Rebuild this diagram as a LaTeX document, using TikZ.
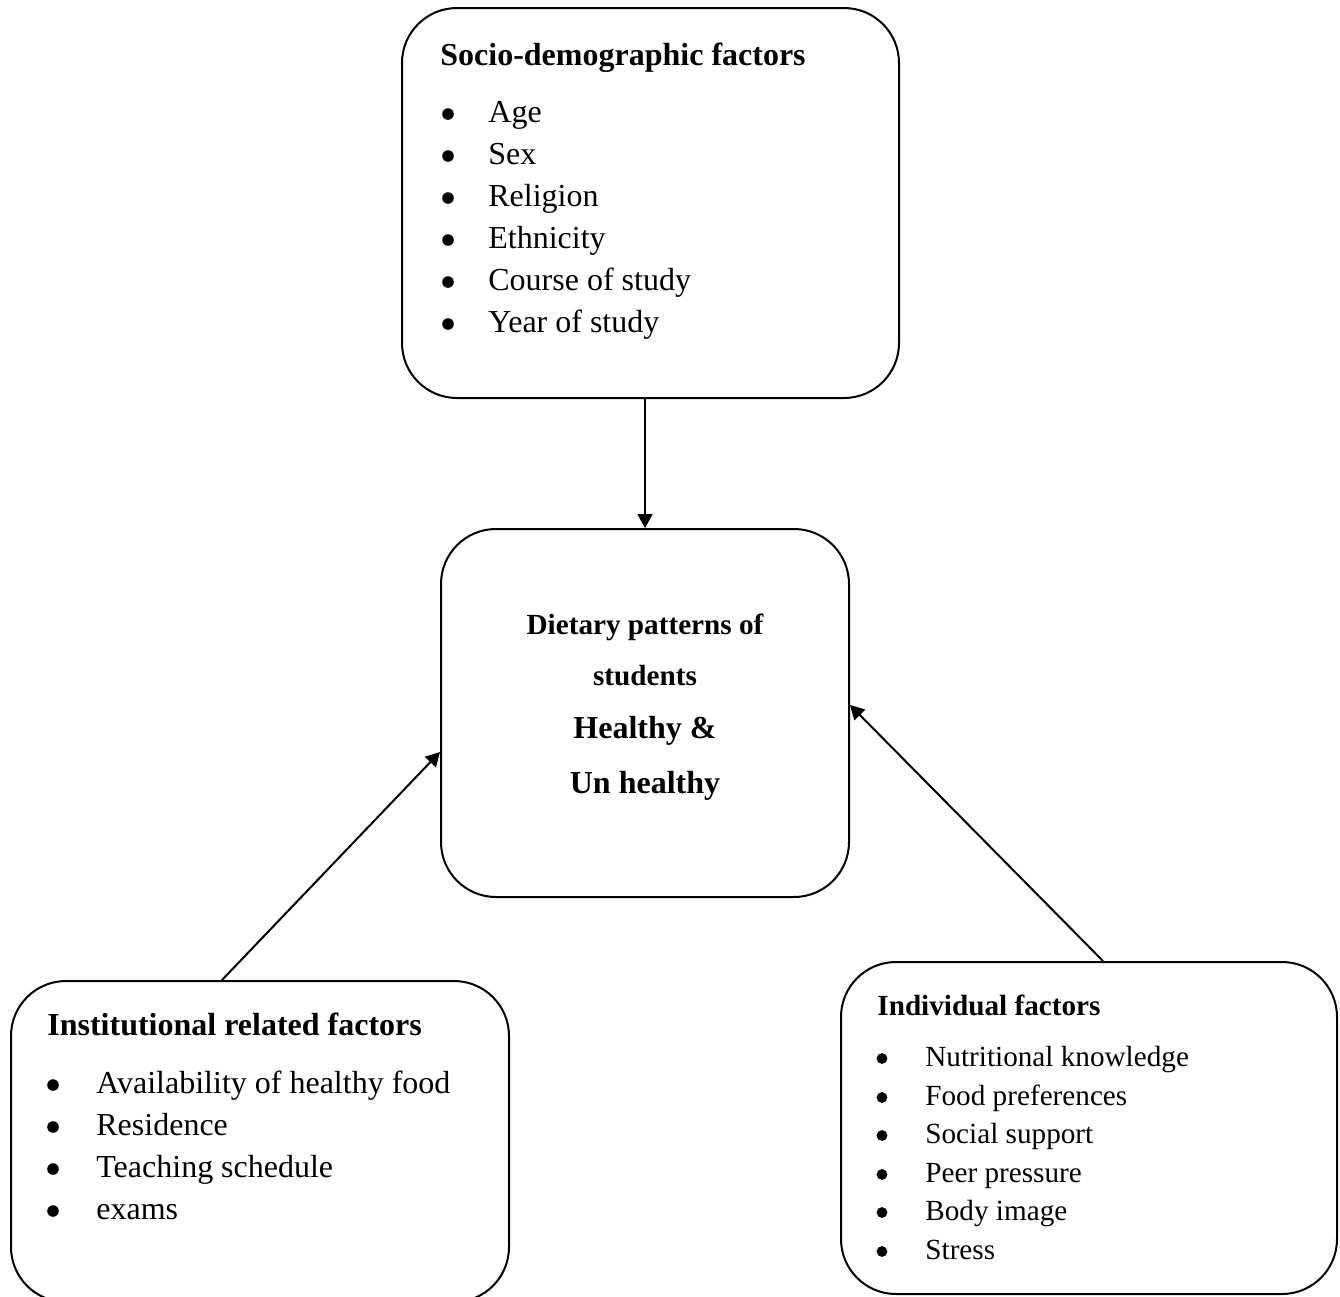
\documentclass[tikz,border=0pt]{standalone}
\usepackage{fontspec}
\setmainfont{Liberation Serif}
\usetikzlibrary{arrows.meta}
\tikzset{
  box/.style={draw, line width=1pt, rounded corners=27.5pt, inner sep=0pt, fill=none},
  arr/.style={line width=1pt, -{Triangle[length=7pt,width=7.5pt]}},
  big/.style={font=\fontsize{16}{19}\selectfont, inner sep=0pt, anchor=base west},
  bigb/.style={font=\fontsize{16}{19}\selectfont\bfseries, inner sep=0pt, anchor=base west},
  sml/.style={font=\fontsize{14.6}{17}\selectfont, inner sep=0pt, anchor=base west},
  smlb/.style={font=\fontsize{14.6}{17}\selectfont\bfseries, inner sep=0pt, anchor=base west},
  dotbig/.style={circle, fill=black, inner sep=0pt, minimum size=5.8pt},
  dotsml/.style={circle, fill=black, inner sep=0pt, minimum size=5.4pt},
  ctrb/.style={font=\fontsize{14.6}{17}\selectfont\bfseries, inner sep=0pt, anchor=base},
  ctrB/.style={font=\fontsize{16}{19}\selectfont\bfseries, inner sep=0pt, anchor=base},
}
\begin{document}
\begin{tikzpicture}[x=0.5pt,y=-0.5pt]
\useasboundingbox (0,0) rectangle (1340,1297);
% boxes
\node[box, minimum width=248.5pt, minimum height=195pt] (sbox) at (650.5,203) {};
\node[box, minimum width=204pt, minimum height=184pt] (cbox) at (645,713) {};
\node[box, minimum width=249pt, minimum height=160.5pt] (lbox) at (260,1141.5) {};
\node[box, minimum width=248pt, minimum height=166pt] (rbox) at (1089,1128) {};
% top box text
\node[bigb] (st) at (440,65) {Socio-demographic factors};
\foreach \i/\t/\y in {1/Age/122,2/Sex/164,3/Religion/206,4/Ethnicity/248,5/Course of study/290,6/Year of study/332}{
  \node[dotbig] (sb\i) at (448,\y-8) {};
  \node[big] (si\i) at (488,\y) {\t};
}
% centre box text
\node[ctrb] (c1) at (645,634) {Dietary patterns of};
\node[ctrb] (c2) at (645,685) {students};
\node[ctrB] (c3) at (645,738) {Healthy \&};
\node[ctrB] (c4) at (645,793) {Un healthy};
% left box text
\node[bigb] (lt) at (47,1035) {Institutional related factors};
\foreach \i/\t/\y in {1/Availability of healthy food/1093,2/Residence/1135,3/Teaching schedule/1177,4/exams/1219}{
  \node[dotbig] (lb\i) at (53,\y-8) {};
  \node[big] (li\i) at (96,\y) {\t};
}
% right box text
\node[smlb] (rt) at (877,1015) {Individual factors};
\foreach \i/\t/\y in {1/Nutritional knowledge/1066,2/Food preferences/1105,3/Social support/1143,4/Peer pressure/1182,5/Body image/1220,6/Stress/1259}{
  \node[dotsml] (rb\i) at (882,\y-7.5) {};
  \node[sml] (ri\i) at (925,\y) {\t};
}
% connectors
\draw[arr] (sbox.south -| cbox.north) -- (cbox.north);
\draw[arr] ([xshift=-19pt]lbox.north) -- ([yshift=-19.5pt]cbox.west);
\draw[arr] ([xshift=7pt]rbox.north) -- ([yshift=4pt]cbox.east);
\end{tikzpicture}
\end{document}
